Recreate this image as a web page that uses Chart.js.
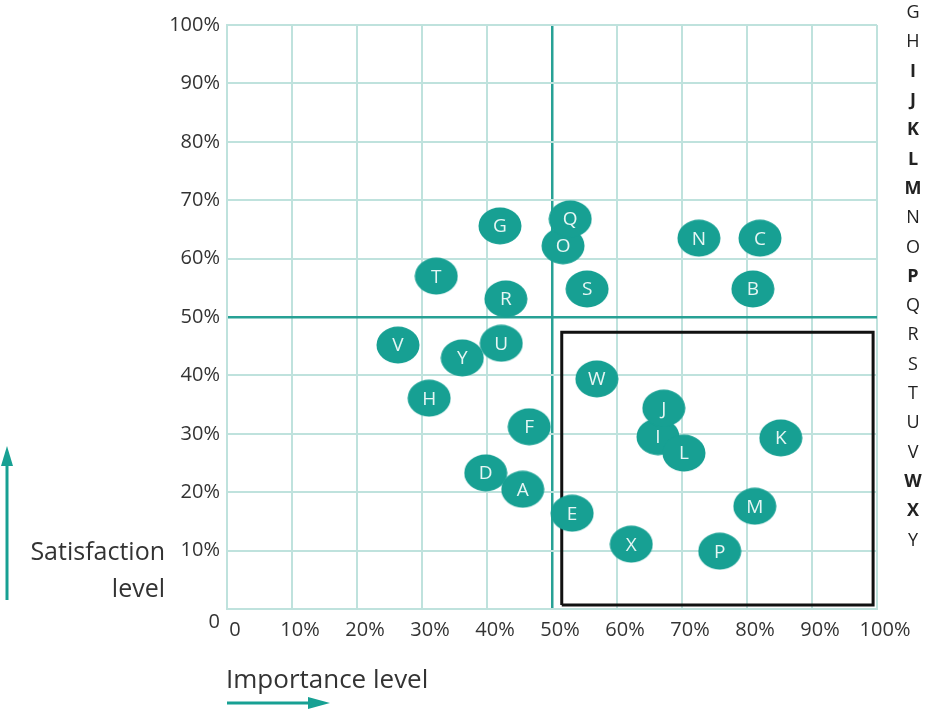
<!DOCTYPE html>
<html>
<head>
<meta charset="utf-8">
<script src="https://cdn.jsdelivr.net/npm/chart.js@4.4.1/dist/chart.umd.min.js"></script>
<style>
  html, body { margin: 0; padding: 0; background: #fff; }
  #wrap { width: 931px; height: 709px; position: relative; }
</style>
</head>
<body>
<div id="wrap"><canvas id="matrix"></canvas></div>
<script>
'use strict';

// items: importance (x) and satisfaction (y), in %
var letters      = ['A', 'B', 'C', 'D', 'E', 'F', 'G', 'H', 'I', 'J', 'K', 'L', 'M',
                    'N', 'O', 'P', 'Q', 'R', 'S', 'T', 'U', 'V', 'W', 'X', 'Y'];
var importance   = [45.5, 80.9, 82.0, 39.8, 53.1, 46.5, 42.0, 31.1, 66.3, 67.2, 85.2, 70.3, 81.2,
                    72.6, 51.7, 75.8, 52.8, 42.9, 55.4, 32.2, 42.2, 26.3, 56.9, 62.2, 36.2];
var satisfaction = [20.5, 54.8, 63.5, 23.3, 16.4, 31.2, 65.6, 36.1, 29.5, 34.4, 29.3, 26.7, 17.6,
                    63.5, 62.2, 9.9, 66.8, 53.1, 54.8, 57.0, 45.5, 45.2, 39.4, 11.1, 43.0];

// highlighted zone (black frame)
var boxX = [51.5, 99.4, 99.4, 51.5, 51.5];
var boxY = [0.7, 0.7, 47.4, 47.4, 0.7];

// tick values
var tickValues = [0, 10, 20, 30, 40, 50, 60, 70, 80, 90, 100];

// list on the right (cut off at the top in the source)
var sideLetters = ['G', 'H', 'I', 'J', 'K', 'L', 'M', 'N', 'O', 'P', 'Q', 'R', 'S', 'T', 'U', 'V', 'W', 'X', 'Y'];
var sideBold    = ['I', 'J', 'K', 'L', 'M', 'P', 'W', 'X'];

var TEAL = '#17a093';
var FONT = '"Open Sans", "Noto Sans", sans-serif';
var TXT = '#333';

function pctX(v){
  return v === 0 ? '0' : v + '%';
}
function pctY(v){
  return v === 0 ? '' : v + '%';   // the y "0" sits lower, drawn by the plugin
}

/* ellipse used as point style */
function makeBlob(){
  var c = document.createElement('canvas');
  c.width = 44; c.height = 38;
  var g = c.getContext('2d');
  g.fillStyle = TEAL;
  g.beginPath();
  g.ellipse(22, 19, 21.5, 18.5, 0, 0, Math.PI * 2);
  g.fill();
  return c;
}

var points = letters.map(function(l, i){
  return {x: importance[i], y: satisfaction[i]};
});
var framePts = boxX.map(function(v, i){
  return {x: v, y: boxY[i]};
});

function gridColor(ctx){
  if (ctx.tick && ctx.tick.value === 50) return '#27a195';
  return '#bfe2dd';
}
function gridWidth(ctx){
  if (ctx.tick && ctx.tick.value === 50) return 2.5;
  return 2;
}

/* letters inside the blobs, titles, arrows, side list */
var decor = {
  id: 'decor',
  afterDatasetsDraw: function(chart){
    var ctx = chart.ctx;
    var meta = chart.getDatasetMeta(1);
    ctx.save();
    ctx.fillStyle = '#e6f6f4';
    ctx.font = '19px ' + FONT;
    ctx.textAlign = 'center';
    ctx.textBaseline = 'middle';
    meta.data.forEach(function(pt, i){
      ctx.fillText(letters[i], pt.x, pt.y + 1);
    });
    ctx.restore();
  },
  afterDraw: function(chart){
    var ctx = chart.ctx;
    ctx.save();
    ctx.fillStyle = TXT;
    ctx.textBaseline = 'middle';

    // y-axis zero
    ctx.font = '20px ' + FONT;
    ctx.textAlign = 'right';
    ctx.fillText('0', 220, 622);

    // axis titles
    ctx.font = '25px ' + FONT;
    ctx.fillText('Satisfaction', 165, 553);
    ctx.fillText('level', 165, 590);
    ctx.textAlign = 'left';
    ctx.font = '26px ' + FONT;
    ctx.fillText('Importance level', 226, 681);

    // arrows
    ctx.strokeStyle = TEAL;
    ctx.fillStyle = TEAL;
    ctx.lineWidth = 3;
    ctx.beginPath();
    ctx.moveTo(7, 600); ctx.lineTo(7, 462);
    ctx.stroke();
    ctx.beginPath();
    ctx.moveTo(7, 446); ctx.lineTo(1, 466); ctx.lineTo(13, 466);
    ctx.closePath(); ctx.fill();

    ctx.beginPath();
    ctx.moveTo(227, 703); ctx.lineTo(312, 703);
    ctx.stroke();
    ctx.beginPath();
    ctx.moveTo(330, 703); ctx.lineTo(308, 697); ctx.lineTo(308, 709);
    ctx.closePath(); ctx.fill();

    // side list
    ctx.fillStyle = '#222';
    ctx.textAlign = 'center';
    sideLetters.forEach(function(l, i){
      var bold = sideBold.indexOf(l) >= 0;
      ctx.font = (bold ? 'bold ' : '') + '18px ' + FONT;
      ctx.fillText(l, 913, 13 + i * 29.3);
    });
    ctx.restore();
  }
};

var chart = new Chart(document.getElementById('matrix'), {
  type: 'scatter',
  data: {
    datasets: [{
      type: 'line',
      data: framePts,
      borderColor: '#111',
      borderWidth: 3,
      pointRadius: 0,
      fill: false,
      order: 2
    }, {
      data: points,
      pointStyle: makeBlob(),
      pointRadius: 20,
      order: 1
    }]
  },
  options: {
    responsive: true,
    maintainAspectRatio: false,
    animation: false,
    layout: { padding: { left: 0, top: 25, right: 54, bottom: 0 } },
    plugins: {
      legend: { display: false },
      tooltip: { enabled: false }
    },
    scales: {
      x: {
        type: 'linear',
        min: 0, max: 100,
        afterBuildTicks: function(axis){
          axis.ticks = tickValues.map(function(v){ return {value: v}; });
        },
        afterFit: function(axis){ axis.height = 100; },
        grid: { color: gridColor, lineWidth: gridWidth, drawTicks: false },
        border: { color: '#bfe2dd', width: 2 },
        ticks: {
          callback: pctX,
          color: TXT,
          font: { family: FONT, size: 20 },
          padding: 9,
          labelOffset: 8,
          maxRotation: 0
        }
      },
      y: {
        type: 'linear',
        min: 0, max: 100,
        afterBuildTicks: function(axis){
          axis.ticks = tickValues.map(function(v){ return {value: v}; });
        },
        afterFit: function(axis){ axis.width = 227; },
        grid: { color: gridColor, lineWidth: gridWidth, drawTicks: false },
        border: { color: '#bfe2dd', width: 2 },
        ticks: {
          callback: pctY,
          color: TXT,
          font: { family: FONT, size: 20 },
          padding: 7
        }
      }
    }
  },
  plugins: [decor]
});
</script>
</body>
</html>
